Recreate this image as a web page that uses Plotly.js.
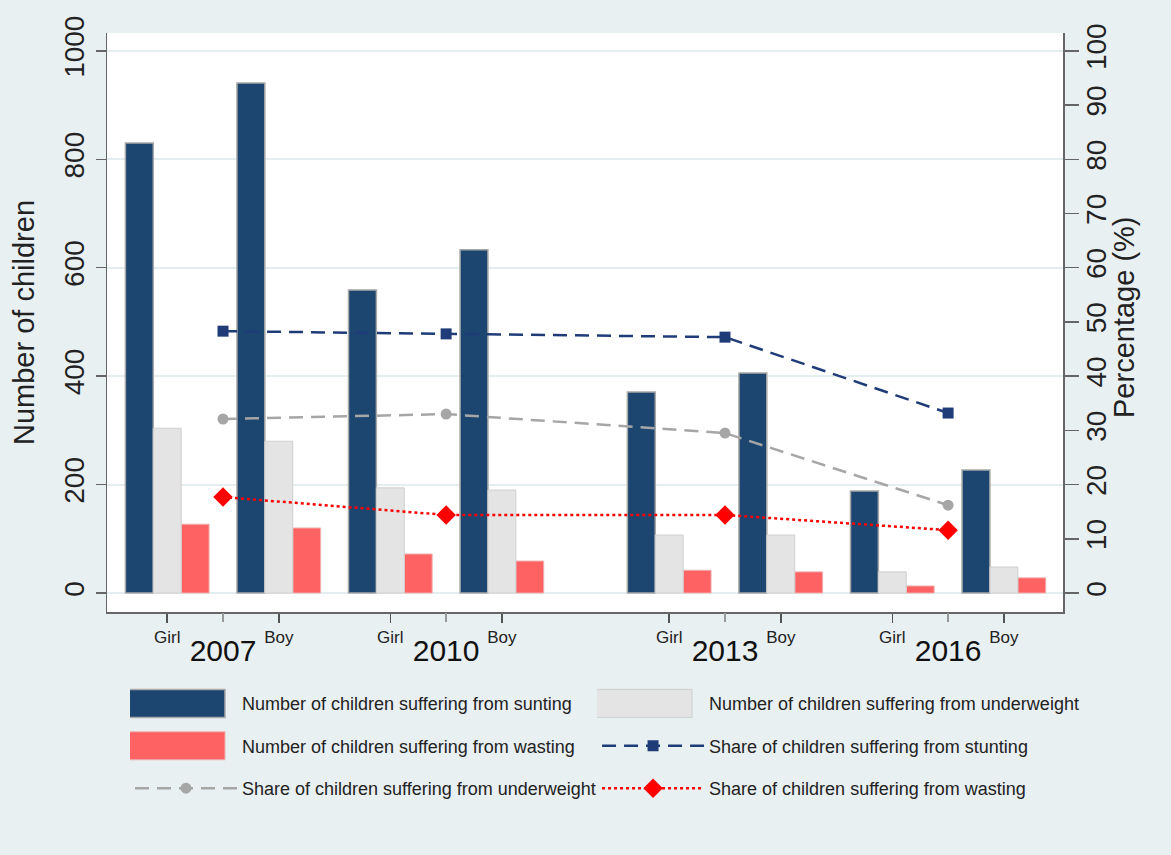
<!DOCTYPE html>
<html><head><meta charset="utf-8">
<script src="https://cdn.plot.ly/plotly-3.0.1.min.js"></script>
<style>html,body{margin:0;padding:0;background:#e9f0f2}</style>
</head>
<body>
<div id="chart" style="width:1171px;height:855px"></div>
<script>
// ---- data ----
const years = ['2007', '2010', '2013', '2016'];
const sexes = ['Girl', 'Boy'];
const stuntingGirl = [830, 559, 371, 188];
const stuntingBoy = [941, 633, 406, 227];
const underweightGirl = [304, 194, 107, 39];
const underweightBoy = [280, 190, 107, 48];
const wastingGirl = [127, 72, 42, 13];
const wastingBoy = [120, 59, 39, 28];
const shareStunting = [48.3, 47.8, 47.2, 33.2];
const shareUnderweight = [32.1, 33.0, 29.5, 16.2];
const shareWasting = [17.7, 14.4, 14.4, 11.6];
const leftTicks = [0, 200, 400, 600, 800, 1000];
const rightTicks = [0, 10, 20, 30, 40, 50, 60, 70, 80, 90, 100];

// ---- layout helpers ----
const F = '"Liberation Sans", Arial, sans-serif';
const yearCenter = [0, 4, 9, 13];
const sexOffset = {Girl: -1, Boy: 1};
const barW = 0.5;
function barX(shift) {
  const xs = [];
  years.forEach((y, i) => sexes.forEach(s => xs.push(yearCenter[i] + sexOffset[s] + shift)));
  return xs;
}
function interleave(g, b) { const v = []; g.forEach((_, i) => v.push(g[i], b[i])); return v; }
const sexTickVals = [], sexTickText = [];
years.forEach((y, i) => sexes.forEach(s => { sexTickVals.push(yearCenter[i] + sexOffset[s]); sexTickText.push(s); }));

const traces = [
  {type: 'bar', name: 'Number of children suffering from sunting', x: barX(-barW), y: interleave(stuntingGirl, stuntingBoy),
   width: barW, marker: {color: '#1c4670', line: {color: '#a8a8a8', width: 1.5}}, legend: 'legend', legendgroup: 'a'},
  {type: 'bar', name: 'Number of children suffering from wasting', x: barX(barW), y: interleave(wastingGirl, wastingBoy),
   width: barW, marker: {color: '#ff6262', line: {color: '#f0b0b0', width: 1}}, legend: 'legend', legendgroup: 'b'},
  {type: 'scatter', mode: 'lines+markers', name: 'Share of children suffering from underweight', x: yearCenter, y: shareUnderweight,
   yaxis: 'y2', line: {color: '#a6a6a6', width: 2.5, dash: '14px,8px'}, marker: {symbol: 'circle', size: 11, color: '#a6a6a6'},
   legend: 'legend', legendgroup: 'c'},
  {type: 'bar', name: 'Number of children suffering from underweight', x: barX(0), y: interleave(underweightGirl, underweightBoy),
   width: barW, marker: {color: '#e4e4e4', line: {color: '#cfcfcf', width: 1}}, legend: 'legend2', legendgroup: 'd'},
  {type: 'scatter', mode: 'lines+markers', name: 'Share of children suffering from stunting', x: yearCenter, y: shareStunting,
   yaxis: 'y2', line: {color: '#1f3c78', width: 2.5, dash: '14px,8px'}, marker: {symbol: 'square', size: 11, color: '#1f3c78'},
   legend: 'legend2', legendgroup: 'e'},
  {type: 'scatter', mode: 'lines+markers', name: 'Share of children suffering from wasting', x: yearCenter, y: shareWasting,
   yaxis: 'y2', line: {color: '#ff0000', width: 2.5, dash: 'dot'}, marker: {symbol: 'diamond', size: 15, color: '#ff0000'},
   legend: 'legend2', legendgroup: 'f'},
  // invisible trace carrying the year axis
  {type: 'scatter', mode: 'markers', x: yearCenter, y: yearCenter.map(() => null), xaxis: 'x3', showlegend: false, hoverinfo: 'skip'}
];

const xr = [-2.08, 15.06];
const legendCommon = {orientation: 'v', bgcolor: 'rgba(0,0,0,0)', font: {family: F, size: 18, color: '#222'},
  itemwidth: 102, tracegroupgap: 16, traceorder: 'grouped', yanchor: 'top', xanchor: 'left'};

const layout = {
  width: 1171, height: 855,
  paper_bgcolor: '#e9f0f2', plot_bgcolor: '#ffffff',
  margin: {l: 107, r: 108, t: 33, b: 243},
  barmode: 'overlay',
  font: {family: F, color: '#222'},
  xaxis: {range: xr, tickmode: 'array', tickvals: sexTickVals, ticktext: sexTickText, ticks: 'outside', ticklen: 9,
    tickwidth: 1.5, tickcolor: '#555', tickfont: {family: F, size: 17, color: '#222'}, showgrid: false, zeroline: false,
    showline: true, linecolor: '#666', linewidth: 1.5, fixedrange: true},
  xaxis3: {range: xr, overlaying: 'x', anchor: 'y', side: 'bottom', tickmode: 'array', tickvals: yearCenter, ticktext: years,
    ticks: 'outside', ticklen: 9, tickwidth: 1.5, tickcolor: '#999', tickfont: {family: F, size: 30, color: '#111'},
    ticklabelstandoff: 3, showgrid: false, zeroline: false, showline: false},
  yaxis: {range: [-35, 1033], tickmode: 'array', tickvals: leftTicks, ticks: 'outside', ticklen: 10, tickwidth: 1.5,
    tickcolor: '#666', tickangle: -90, tickfont: {family: F, size: 28, color: '#222'}, showgrid: true,
    gridcolor: '#e4edf0', gridwidth: 2, zeroline: false, showline: true, linecolor: '#666', linewidth: 1.5,
    title: {text: 'Number of children', font: {family: F, size: 29, color: '#222'}, standoff: 16}},
  yaxis2: {range: [-3.5, 103.3], overlaying: 'y', side: 'right', tickmode: 'array', tickvals: rightTicks, ticks: 'outside',
    ticklen: 14, tickwidth: 1.5, tickcolor: '#666', tickangle: -90, ticklabelstandoff: -6,
    tickfont: {family: F, size: 28, color: '#222'},
    showgrid: false, zeroline: false, showline: true, linecolor: '#666', linewidth: 1.5},
  annotations: [{text: 'Percentage (%)', xref: 'paper', yref: 'paper', x: 1.0638, y: 0.5095, textangle: -90,
    showarrow: false, xanchor: 'center', yanchor: 'middle', font: {family: F, size: 29, color: '#222'}}],
  legend: Object.assign({x: 0.02406, y: -0.1264}, legendCommon),
  legend2: Object.assign({x: 0.5126, y: -0.1264}, legendCommon),
  showlegend: true
};

Plotly.newPlot('chart', traces, layout, {staticPlot: true}).then(gd => {
  // enlarge bar legend swatches to wide boxes like the original
  gd.querySelectorAll('.legendpoints path').forEach(p => {
    const d = p.getAttribute('d') || '';
    if (d.replace(/\s/g, '') === 'M6,6H-6V-6H6Z') {
      p.setAttribute('d', 'M39,14H-57V-14H39Z');
    }
  });
});
</script>
</body></html>
